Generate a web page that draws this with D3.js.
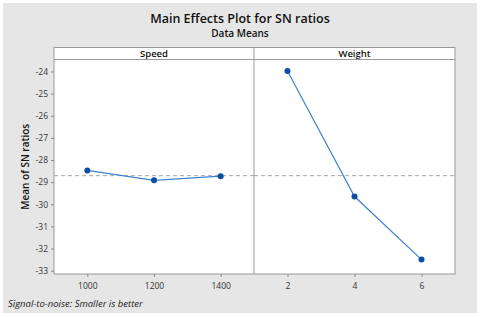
<!DOCTYPE html>
<html>
<head>
<meta charset="utf-8">
<script src="https://cdn.jsdelivr.net/npm/d3@7"></script>
<style>
  body { margin: 0; background: #fff; }
  svg { display: block; font-family: "Open Sans", "Noto Sans", sans-serif; }
</style>
</head>
<body>
<svg id="chart"></svg>
<script>
// factor levels and mean SN ratios
const speedLevels = [1000, 1200, 1400];
const speedMeans = [-28.47, -28.92, -28.73];
const weightLevels = [2, 4, 6];
const weightMeans = [-23.98, -29.65, -32.50];
const yTicks = [-24, -25, -26, -27, -28, -29, -30, -31, -32, -33];

const W = 480, H = 317;
const svg = d3.select("#chart").attr("width", W).attr("height", H);

// gray backdrop
svg.append("rect")
    .attr("x", 3).attr("y", 3)
    .attr("width", 474).attr("height", 310)
    .attr("fill", "#e6e6e6");

const pTop = 47.5, stripH = 12, pBottom = 274;
const pLeft = 54, pMid = 254, pRight = 455;

let y = d3.scaleLinear()
    .domain([-23.46, -33.15])
    .range([pTop + stripH, pBottom]);

const panels = [
    { name: "Speed", levels: speedLevels, means: speedMeans, x0: pLeft, x1: pMid,
      dom: [900, 1500] },
    { name: "Weight", levels: weightLevels, means: weightMeans, x0: pMid, x1: pRight,
      dom: [1, 7] }
];

// overall mean for the reference line
const grandMean = d3.mean(speedMeans);

// white plot + strip background
svg.append("rect")
    .attr("x", pLeft).attr("y", pTop)
    .attr("width", pRight - pLeft).attr("height", pBottom - pTop)
    .attr("fill", "#fff");

panels.forEach(p => {
    let x = d3.scaleLinear().domain(p.dom).range([p.x0, p.x1]);

    // strip label
    svg.append("text")
        .attr("x", (p.x0 + p.x1) / 2)
        .attr("y", pTop + 9.5)
        .attr("text-anchor", "middle")
        .attr("font-size", "9.5px")
        .attr("font-weight", "600")
        .attr("fill", "#111")
        .text(p.name);

    // dashed grand mean line
    svg.append("line")
        .attr("x1", p.x0).attr("x2", p.x1)
        .attr("y1", y(grandMean)).attr("y2", y(grandMean))
        .attr("stroke", "#a8a8a8")
        .attr("stroke-width", 1)
        .attr("stroke-dasharray", "4,3");

    let pts = p.levels.map((l, i) => ({ l: l, v: p.means[i] }));

    svg.append("path")
        .attr("d", d3.line().x(d => x(d.l)).y(d => y(d.v))(pts))
        .attr("fill", "none")
        .attr("stroke", "#3f82d1")
        .attr("stroke-width", 1.2);

    svg.selectAll(null)
        .data(pts)
        .enter()
        .append("circle")
        .attr("cx", d => x(d.l))
        .attr("cy", d => y(d.v))
        .attr("r", 3)
        .attr("fill", "#0b4fa3");

    // x axis
    let xAxis = svg.append("g")
        .attr("transform", "translate(0," + pBottom + ")")
        .call(d3.axisBottom(x).tickValues(p.levels).tickFormat(d => String(d))
            .tickSize(3).tickSizeOuter(0));
    xAxis.select(".domain").remove();
    xAxis.selectAll("line").attr("stroke", "#888");
    xAxis.selectAll("text")
        .attr("font-size", "8.5px")
        .attr("fill", "#333")
        .attr("font-family", "\"Open Sans\", sans-serif")
        .attr("dy", "1.05em");
});

// y axis
let yAxis = svg.append("g")
    .attr("transform", "translate(" + pLeft + ",0)")
    .call(d3.axisLeft(y).tickValues(yTicks).tickFormat(d => String(d))
        .tickSize(3).tickSizeOuter(0));
yAxis.select(".domain").remove();
yAxis.selectAll("line").attr("stroke", "#888");
yAxis.selectAll("text")
    .attr("font-size", "8.5px")
    .attr("fill", "#333")
    .attr("font-family", "\"Open Sans\", sans-serif");

// panel frames
svg.append("rect")
    .attr("x", pLeft).attr("y", pTop)
    .attr("width", pRight - pLeft).attr("height", pBottom - pTop)
    .attr("fill", "none")
    .attr("stroke", "#999");
svg.append("line")
    .attr("x1", pLeft).attr("x2", pRight)
    .attr("y1", pTop + stripH).attr("y2", pTop + stripH)
    .attr("stroke", "#999");
svg.append("line")
    .attr("x1", pMid).attr("x2", pMid)
    .attr("y1", pTop).attr("y2", pBottom)
    .attr("stroke", "#999");

// titles
svg.append("text")
    .attr("x", 240).attr("y", 23)
    .attr("text-anchor", "middle")
    .attr("font-size", "12.5px")
    .attr("font-weight", "600")
    .attr("fill", "#111")
    .text("Main Effects Plot for SN ratios");
svg.append("text")
    .attr("x", 240).attr("y", 37)
    .attr("text-anchor", "middle")
    .attr("font-size", "10px")
    .attr("font-weight", "600")
    .attr("fill", "#111")
    .text("Data Means");

svg.append("text")
    .attr("transform", "translate(29," + ((pTop + stripH + pBottom) / 2) + ") rotate(-90)")
    .attr("text-anchor", "middle")
    .attr("font-size", "10px")
    .attr("font-weight", "600")
    .attr("fill", "#111")
    .text("Mean of SN ratios");

svg.append("text")
    .attr("x", 8).attr("y", 307)
    .attr("font-size", "9.5px")
    .attr("font-style", "italic")
    .attr("fill", "#222")
    .text("Signal-to-noise: Smaller is better");
</script>
</body>
</html>
